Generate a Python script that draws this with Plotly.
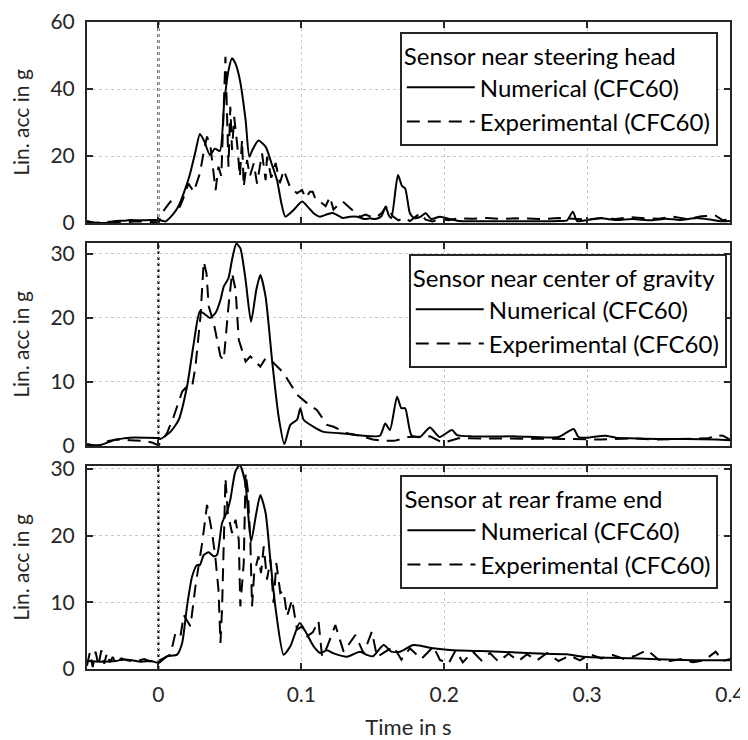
import plotly.graph_objects as go

# ---------------- data ----------------
panel_titles = ["Sensor near steering head", "Sensor near center of gravity", "Sensor at rear frame end"]
series_names = ["Numerical (CFC60)", "Experimental (CFC60)"]
x_ticks = [0, 0.1, 0.2, 0.3, 0.4]
x_tick_labels = ["0", "0.1", "0.2", "0.3", "0.4"]
y_ticks_top = [0, 20, 40, 60]
y_ticks_mid = [0, 10, 20, 30]
y_ticks_bot = [0, 10, 20, 30]
impact_time = 0.0

# Panel 1 - steering head
t1_num = [-0.05, -0.046, -0.042, -0.036, -0.03, -0.024, -0.02, -0.012, -0.006, 0.0, 0.005, 0.010, 0.014,
          0.0177, 0.022, 0.026, 0.029, 0.032, 0.036, 0.0395, 0.043, 0.046, 0.049, 0.0515, 0.054, 0.057,
          0.061, 0.0636, 0.066, 0.070, 0.075, 0.079, 0.083, 0.086, 0.0888, 0.0946, 0.1005, 0.105, 0.1086,
          0.113, 0.118, 0.122, 0.129, 0.134, 0.139, 0.144, 0.148, 0.152, 0.156, 0.159, 0.161, 0.163,
          0.1676, 0.1705, 0.1727, 0.176, 0.179, 0.183, 0.187, 0.191, 0.197, 0.204, 0.21, 0.22, 0.24,
          0.26, 0.28, 0.286, 0.290, 0.293, 0.30, 0.31, 0.32, 0.332, 0.345, 0.355, 0.365, 0.377, 0.388,
          0.395, 0.4]
a1_num = [0.6, 0.2, 0.0, 0.1, 0.6, 0.7, 0.9, 0.8, 0.9, 0.9, 0.5, 2.5, 5.0,
          8.9, 14.5, 21.5, 26.6, 24.5, 20.3, 22.2, 21.5, 35.8, 45.5, 49.2, 47.5, 42.7,
          30.7, 19.8, 22.0, 24.6, 22.8, 18.0, 12.8, 6.0, 1.9, 3.9, 6.4, 4.6, 2.9,
          1.9, 2.6, 3.0, 1.5, 1.9, 1.9, 1.2, 1.4, 1.2, 2.0, 4.9, 2.5, 1.5,
          14.3, 11.0, 10.3, 2.9, 1.5, 1.8, 2.9, 1.2, 1.9, 1.2, 0.6, 0.5, 0.5,
          0.5, 0.6, 0.8, 3.4, 0.6, 0.9, 1.4, 0.9, 1.2, 0.8, 1.3, 0.9, 1.5, 0.9,
          0.5, 0.6]
t1_exp = [-0.05, -0.045, -0.035, -0.025, -0.015, -0.005, 0.0, 0.004, 0.0084, 0.012, 0.015, 0.018, 0.021,
          0.0247, 0.029, 0.032, 0.034, 0.0364, 0.040, 0.042, 0.044, 0.0469, 0.048, 0.049, 0.0503, 0.0515,
          0.053, 0.055, 0.057, 0.0585, 0.0597, 0.062, 0.064, 0.0667, 0.069, 0.0725, 0.075, 0.076, 0.079,
          0.082, 0.085, 0.0877, 0.092, 0.097, 0.1005, 0.103, 0.106, 0.108, 0.110, 0.113, 0.117, 0.120,
          0.1225, 0.126, 0.129, 0.134, 0.138, 0.141, 0.145, 0.148, 0.152, 0.156, 0.160, 0.164, 0.168,
          0.172, 0.176, 0.180, 0.183, 0.187, 0.192, 0.197, 0.203, 0.21, 0.22, 0.23, 0.24, 0.25, 0.26,
          0.27, 0.28, 0.29, 0.30, 0.31, 0.32, 0.33, 0.34, 0.35, 0.36, 0.37, 0.38, 0.39, 0.395, 0.4]
a1_exp = [0.3, 0.0, 0.4, 0.2, 0.5, 0.3, 0.2, 3.9, 6.4, 5.0, 4.9, 8.0, 11.8,
          9.3, 14.8, 22.0, 25.8, 22.8, 9.85, 16.8, 14.0, 49.6, 35.7, 16.8, 34.7, 21.8,
          31.7, 24.0, 13.8, 24.8, 10.8, 18.8, 14.0, 17.8, 11.8, 20.8, 12.8, 19.8, 13.5,
          17.9, 11.9, 15.8, 10.8, 8.9, 9.85, 7.5, 9.3, 9.3, 7.0, 6.4, 5.0, 7.8,
          4.0, 5.5, 6.4, 4.4, 3.0, 1.9, 2.5, 2.0, 1.6, 2.9, 5.0, 2.0, 0.8,
          1.5, 0.6, 1.8, 2.9, 1.0, 0.5, 1.2, 0.8, 1.4, 1.3, 1.5, 1.2, 1.4, 1.3,
          1.2, 1.5, 1.3, 1.0, 1.5, 1.2, 1.8, 1.4, 1.3, 1.9, 1.2, 2.0, 2.2, 0.8, 1.2]

# Panel 2 - center of gravity
t2_num = [-0.05, -0.045, -0.04, -0.035, -0.03, -0.024, -0.02, -0.01, 0.0, 0.0014, 0.0084, 0.0142, 0.020,
          0.0247, 0.029, 0.0329, 0.036, 0.040, 0.0434, 0.0457, 0.049, 0.0515, 0.0545, 0.0573, 0.061,
          0.0648, 0.0685, 0.0713, 0.075, 0.0795, 0.0841, 0.0881, 0.0923, 0.097, 0.0993, 0.1016, 0.1086,
          0.1156, 0.127, 0.1435, 0.155, 0.1587, 0.162, 0.167, 0.170, 0.1727, 0.177, 0.183, 0.190, 0.1967,
          0.2054, 0.209, 0.22, 0.25, 0.28, 0.2905, 0.294, 0.30, 0.3126, 0.32, 0.33, 0.35, 0.37, 0.39, 0.4]
a2_num = [0.3, 0.1, 0.2, 0.6, 1.0, 1.2, 1.3, 1.3, 1.25, 1.1, 2.2, 4.1, 9.3,
          16.0, 21.0, 20.5, 20.0, 20.8, 22.8, 24.9, 26.2, 29.1, 31.6, 30.9, 25.9,
          19.4, 24.4, 26.7, 23.3, 13.4, 4.6, 0.3, 3.3, 4.1, 5.9, 4.1, 3.0,
          2.2, 2.0, 1.6, 1.6, 3.5, 2.5, 7.7, 5.9, 5.9, 1.7, 1.4, 2.9, 1.4,
          2.5, 1.7, 1.5, 1.5, 1.4, 2.65, 1.4, 1.3, 1.6, 1.3, 1.2, 1.1, 1.1, 1.0, 0.9]
t2_exp = [-0.05, -0.042, -0.035, -0.028, -0.02, -0.01, -0.004, 0.0, 0.0014, 0.006, 0.0107, 0.0166, 0.020,
          0.0236, 0.0259, 0.0294, 0.0317, 0.0336, 0.0352, 0.0387, 0.0434, 0.0457, 0.049, 0.0515, 0.054,
          0.0562, 0.061, 0.0643, 0.069, 0.0713, 0.075, 0.0795, 0.0876, 0.097, 0.104, 0.111, 0.118,
          0.1226, 0.132, 0.143, 0.150, 0.158, 0.165, 0.175, 0.19, 0.199, 0.21, 0.22, 0.25, 0.28, 0.29,
          0.31, 0.33, 0.35, 0.37, 0.385, 0.39, 0.395, 0.4]
a2_exp = [0.1, 0.0, 0.8, 1.0, 0.9, 0.8, 0.5, 0.1, 0.5, 2.0, 4.6, 8.5, 9.3,
          9.3, 12.4, 20.2, 28.8, 27.0, 21.8, 19.2, 14.0, 13.4, 21.8, 27.0, 24.4,
          16.6, 13.2, 14.0, 12.9, 12.4, 13.7, 13.2, 11.4, 8.0, 6.7, 5.6, 3.3,
          3.0, 2.0, 1.5, 1.0, 0.8, 0.8, 1.4, 1.5, 0.5, 1.2, 1.2, 1.1, 1.2, 1.1,
          1.0, 1.2, 1.0, 1.1, 1.2, 1.7, 1.6, 1.0]

# Panel 3 - rear frame end
t3_num = [-0.05, -0.04, -0.03, -0.025, -0.0196, -0.012, -0.005, 0.0, 0.006, 0.013, 0.0166, 0.020, 0.0236,
          0.027, 0.029, 0.0317, 0.0352, 0.0387, 0.041, 0.0445, 0.048, 0.0503, 0.0538, 0.0569, 0.0608,
          0.0648, 0.0685, 0.0713, 0.075, 0.0783, 0.0818, 0.0876, 0.0923, 0.0988, 0.1028, 0.1086, 0.1133,
          0.118, 0.1226, 0.132, 0.141, 0.146, 0.150, 0.1576, 0.163, 0.169, 0.1785, 0.1925, 0.204, 0.239,
          0.262, 0.286, 0.297, 0.332, 0.367, 0.4]
a3_num = [1.2, 1.1, 1.2, 1.4, 1.35, 1.1, 1.2, 0.9, 1.9, 2.15, 3.9, 9.4, 13.9,
          15.6, 15.6, 17.1, 17.5, 16.9, 17.1, 21.9, 23.6, 25.4, 29.6, 30.6, 27.9,
          19.1, 23.4, 26.1, 23.4, 16.4, 9.4, 2.15, 3.4, 6.9, 5.65, 3.4, 2.4,
          2.8, 2.35, 1.85, 2.6, 2.1, 1.9, 3.6, 2.6, 2.6, 3.6, 3.1, 2.85, 2.6,
          2.35, 2.2, 1.85, 1.6, 1.35, 1.3]
t3_exp = [-0.05, -0.048, -0.046, -0.044, -0.042, -0.040, -0.038, -0.036, -0.034, -0.032, -0.030, -0.026,
          -0.022, -0.016, -0.010, -0.004, 0.0, 0.0084, 0.0119, 0.0154, 0.0177, 0.0224, 0.0259, 0.0306,
          0.034, 0.0376, 0.040, 0.042, 0.0434, 0.0445, 0.0469, 0.0485, 0.0515, 0.054, 0.0562, 0.0573,
          0.0597, 0.061, 0.0625, 0.0643, 0.0655, 0.067, 0.070, 0.0718, 0.0737, 0.076, 0.0783, 0.0806,
          0.0825, 0.0853, 0.0876, 0.090, 0.0935, 0.097, 0.1005, 0.104, 0.108, 0.112, 0.1145, 0.118,
          0.1238, 0.1296, 0.1378, 0.1436, 0.1494, 0.153, 0.158, 0.1646, 0.170, 0.176, 0.184, 0.1925,
          0.197, 0.203, 0.208, 0.213, 0.220, 0.226, 0.232, 0.238, 0.245, 0.252, 0.258, 0.265, 0.272,
          0.280, 0.288, 0.295, 0.302, 0.310, 0.318, 0.326, 0.334, 0.342, 0.350, 0.358, 0.366, 0.374,
          0.382, 0.390, 0.395, 0.4]
a3_exp = [0.5, 2.5, 0.3, 2.6, 0.5, 2.8, 0.8, 2.4, 1.0, 1.8, 0.9, 1.6,
          1.3, 1.1, 1.5, 1.0, 1.2, 2.15, 5.4, 4.9, 8.1, 6.4, 12.4, 18.9,
          24.6, 20.4, 16.4, 11.9, 3.9, 8.9, 28.6, 23.4, 20.4, 22.4, 19.4, 9.4,
          15.9, 29.4, 26.9, 19.4, 9.4, 14.4, 16.9, 14.4, 18.4, 13.4, 16.4, 9.9,
          15.9, 11.4, 11.7, 7.9, 10.4, 5.9, 6.4, 4.9, 5.5, 7.2, 1.9, 3.3,
          6.6, 2.6, 5.1, 2.35, 5.6, 1.8, 2.5, 3.35, 1.4, 3.1, 1.5, 3.35,
          1.35, 0.8, 2.8, 1.0, 2.6, 1.3, 2.4, 1.1, 2.3, 1.2, 2.2, 1.3, 2.4,
          1.2, 2.0, 1.3, 2.2, 1.6, 2.1, 1.5, 2.0, 2.85, 1.4, 1.2, 1.5, 1.0,
          1.3, 2.6, 1.2, 1.5]

y_ranges = [[0, 60], [0, 31.7], [0, 30.45]]

# ---------------- figure ----------------
FONT = "Lato, Carlito, Calibri, 'Noto Sans', sans-serif"
TXT = "#262626"

fig = go.Figure()

panels = [
    (t1_num, a1_num, t1_exp, a1_exp),
    (t2_num, a2_num, t2_exp, a2_exp),
    (t3_num, a3_num, t3_exp, a3_exp),
]
legend_ids = ["legend", "legend2", "legend3"]
axis_suffix = ["", "2", "3"]

for i, (tn, an, te, ae) in enumerate(panels):
    xa = "x" + axis_suffix[i]
    ya = "y" + axis_suffix[i]
    fig.add_trace(go.Scatter(x=tn, y=an, mode="lines", name=series_names[0],
                             line=dict(color="black", width=2, shape="spline", smoothing=0.6),
                             xaxis=xa, yaxis=ya, legend=legend_ids[i]))
    fig.add_trace(go.Scatter(x=te, y=ae, mode="lines", name=series_names[1],
                             line=dict(color="black", width=2, dash="13px,8px"), xaxis=xa, yaxis=ya,
                             legend=legend_ids[i]))
    fig.add_shape(type="line", xref=xa, yref=ya + " domain", x0=impact_time, x1=impact_time,
                  y0=0, y1=1, line=dict(color="black", width=2, dash="dot"), layer="below")

domains = [[0.6893, 1.0], [0.3447, 0.6584], [0.0, 0.3138]]
y_ticks = [y_ticks_top, y_ticks_mid, y_ticks_bot]

common_ax = dict(showline=True, linecolor=TXT, linewidth=2, mirror="ticks", ticks="inside",
                 ticklen=6, tickwidth=1.5, tickcolor=TXT, showgrid=True, gridcolor="#c8c8c8",
                 griddash="dot", gridwidth=1.2, zeroline=False, automargin=False,
                 tickfont=dict(family=FONT, size=21, color=TXT))

# page body has an 8px margin, so the plot area is offset by it
layout = dict(width=748, height=740, margin=dict(l=79, r=26, t=14, b=79),
              plot_bgcolor="white", paper_bgcolor="white",
              font=dict(family=FONT, size=21, color=TXT))

for i in range(3):
    s = axis_suffix[i]
    xa = dict(common_ax, range=[-0.05, 0.4], tickvals=x_ticks, ticktext=x_tick_labels,
              anchor="y" + s, domain=[0, 1], showticklabels=(i == 2), ticklabelstandoff=6)
    if i == 2:
        xa["title"] = dict(text="Time in s", font=dict(family=FONT, size=22, color=TXT), standoff=14)
    else:
        xa["matches"] = "x3"
    ya = dict(common_ax, range=y_ranges[i], tickvals=y_ticks[i], anchor="x" + s, domain=domains[i],
              ticklabelstandoff=6,
              title=dict(text="Lin. acc in g", font=dict(family=FONT, size=21, color=TXT), standoff=17))
    layout["xaxis" + s] = xa
    layout["yaxis" + s] = ya

legend_pos = [(0.981, 0.9845), (0.995, 0.6414), (0.982, 0.2998)]
for i in range(3):
    lid = legend_ids[i]
    layout[lid] = dict(x=legend_pos[i][0], y=legend_pos[i][1], xanchor="right", yanchor="top",
                       xref="paper", yref="paper",
                       bgcolor="white", bordercolor=TXT, borderwidth=2,
                       font=dict(family=FONT, size=24, color="black"),
                       title=dict(text=panel_titles[i], font=dict(family=FONT, size=24, color="black")),
                       itemwidth=68, tracegroupgap=0)

fig.update_layout(**layout)
fig.write_html("out.html")
